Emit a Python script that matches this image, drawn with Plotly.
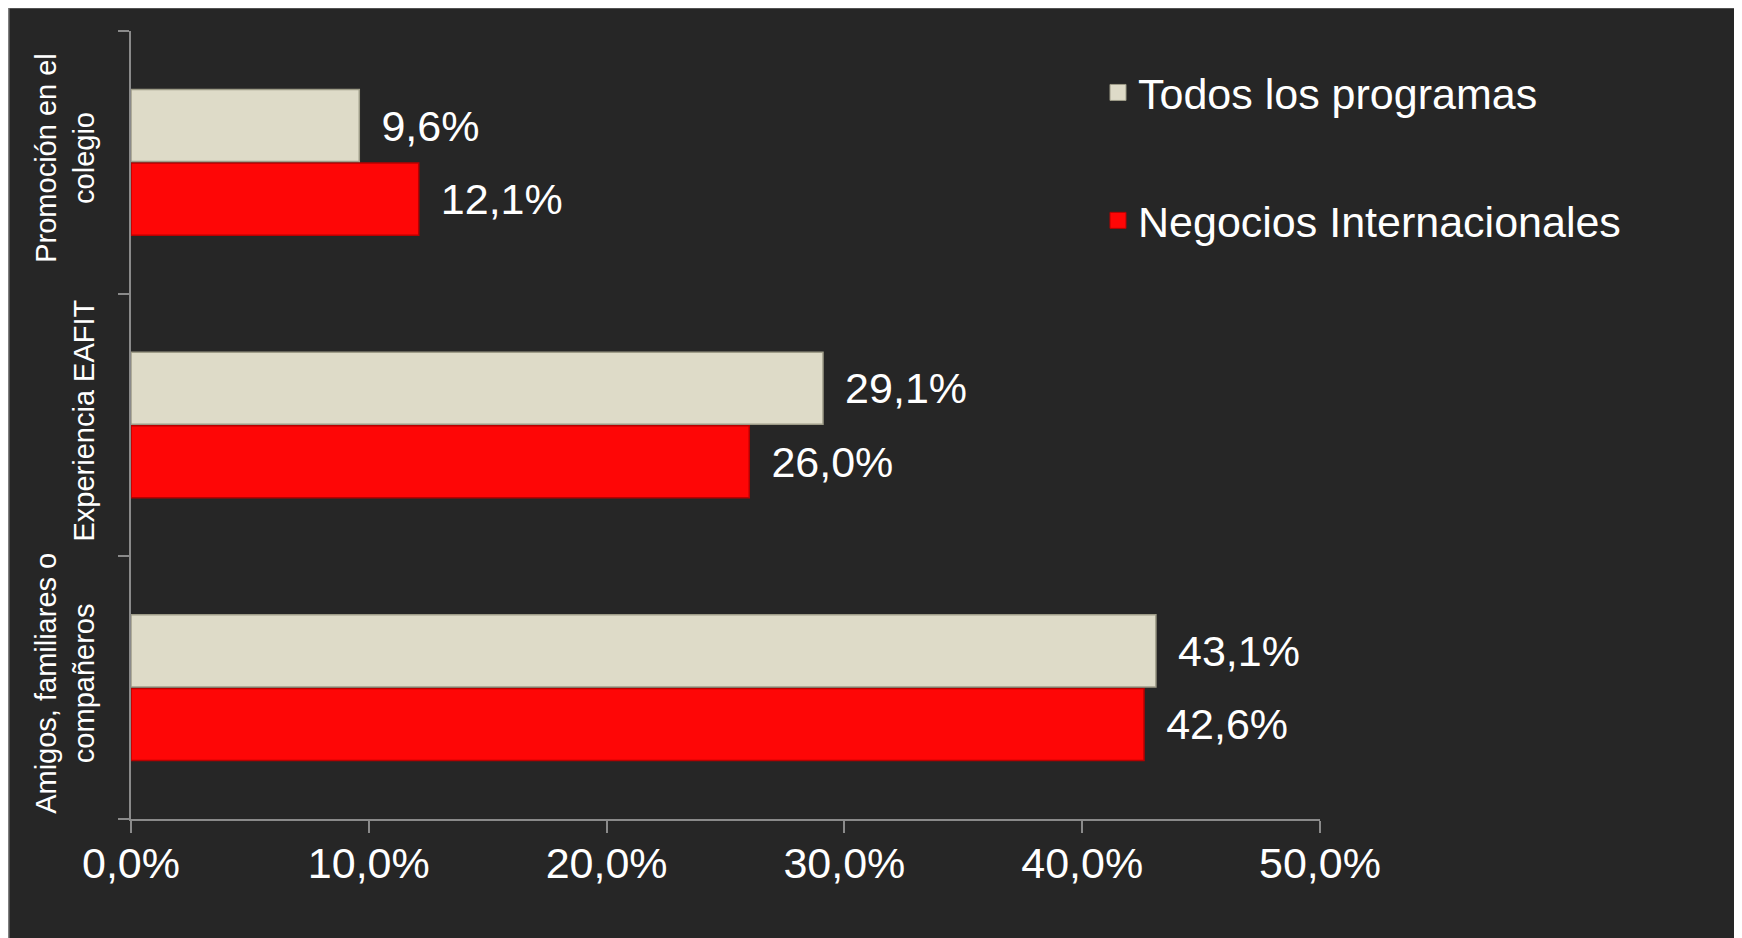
import plotly.graph_objects as go

categories = ["Amigos, familiares o<br>compañeros", "Experiencia EAFIT", "Promoción en el<br>colegio"]
todos = [0.431, 0.291, 0.096]
negocios = [0.426, 0.260, 0.121]
series_names = ["Todos los programas", "Negocios Internacionales"]
x_ticks = [0.0, 0.1, 0.2, 0.3, 0.4, 0.5]

W, H = 1742, 938
L, R, T, B = 123, 1312, 23, 811  # plot area in px (page has 8px body margin)
pw, ph = R - L, B - T

def px_x(v):
    return (v - L) / pw

def px_y(v):
    return (B - v) / ph

FONT = "Liberation Sans, Arial, sans-serif"
GRAY = "#DEDBC8"
GRAY_EDGE = "#9E9C88"
RED = "#FE0606"
RED_EDGE = "#B80000"
LBL = "\u00a0\u2006%{x:.1%}"

fig = go.Figure()
fig.add_trace(go.Bar(
    y=categories, x=negocios, orientation="h", name=series_names[1],
    marker=dict(color=RED, line=dict(color=RED_EDGE, width=1.5)),
    texttemplate=LBL, textposition="outside",
    textfont=dict(color="white", size=43, family=FONT),
    showlegend=False, cliponaxis=False,
))
fig.add_trace(go.Bar(
    y=categories, x=todos, orientation="h", name=series_names[0],
    marker=dict(color=GRAY, line=dict(color=GRAY_EDGE, width=1.5)),
    texttemplate=LBL, textposition="outside",
    textfont=dict(color="white", size=43, family=FONT),
    showlegend=False, cliponaxis=False,
))
# legend entries with larger square swatches
fig.add_trace(go.Scatter(
    x=[None], y=[None], mode="markers", name=series_names[0],
    marker=dict(symbol="square", size=22, color=GRAY, line=dict(color=GRAY_EDGE, width=1)),
    legendgroup="a", legendrank=1,
))
fig.add_trace(go.Scatter(
    x=[None], y=[None], mode="markers", name=series_names[1],
    marker=dict(symbol="square", size=22, color=RED, line=dict(color=RED_EDGE, width=1)),
    legendgroup="b", legendrank=2,
))

fig.update_layout(
    width=W, height=H,
    margin=dict(l=L, r=W - R, t=T, b=H - B, pad=0),
    paper_bgcolor="#262626",
    plot_bgcolor="rgba(0,0,0,0)",
    separators=",.",
    barmode="group",
    bargap=0.44,
    bargroupgap=0.02,
    font=dict(family=FONT, color="white"),
    showlegend=True,
    legend=dict(
        x=px_x(1090), y=px_y(50), xanchor="left", yanchor="top",
        font=dict(size=43, color="white", family=FONT),
        bgcolor="rgba(0,0,0,0)",
        traceorder="grouped", tracegroupgap=69,
        itemwidth=30,
    ),
    xaxis=dict(
        range=[0, 0.5], tickvals=x_ticks, tickformat=".1%",
        showgrid=False, zeroline=False,
        showline=True, linecolor="#8A8A8A", linewidth=1.5,
        ticks="outside", ticklen=12, tickcolor="#8A8A8A", tickwidth=1.5,
        tickfont=dict(size=43, color="white", family=FONT),
        ticklabelstandoff=-6,
    ),
    yaxis=dict(
        type="category", range=[-0.5, 2.5],
        showgrid=False, zeroline=False,
        showline=True, linecolor="#8A8A8A", linewidth=1.5,
        ticks="outside", ticklen=11, tickcolor="#8A8A8A", tickwidth=1.5,
        tickson="boundaries",
        tickangle=-90,
        tickfont=dict(size=29, color="white", family=FONT),
        ticklabelstandoff=24,
    ),
    shapes=[dict(
        type="rect", xref="paper", yref="paper", layer="below",
        x0=px_x(0), x1=px_x(1731), y0=px_y(945), y1=px_y(-1),
        fillcolor="rgba(0,0,0,0)", line=dict(color="#7F7F7F", width=3),
    ), dict(
        type="rect", xref="paper", yref="paper", layer="below",
        x0=px_x(1733), x1=px_x(1760), y0=px_y(950), y1=px_y(-10),
        fillcolor="white", line=dict(width=0),
    )],
)

fig.write_html("out.html")
